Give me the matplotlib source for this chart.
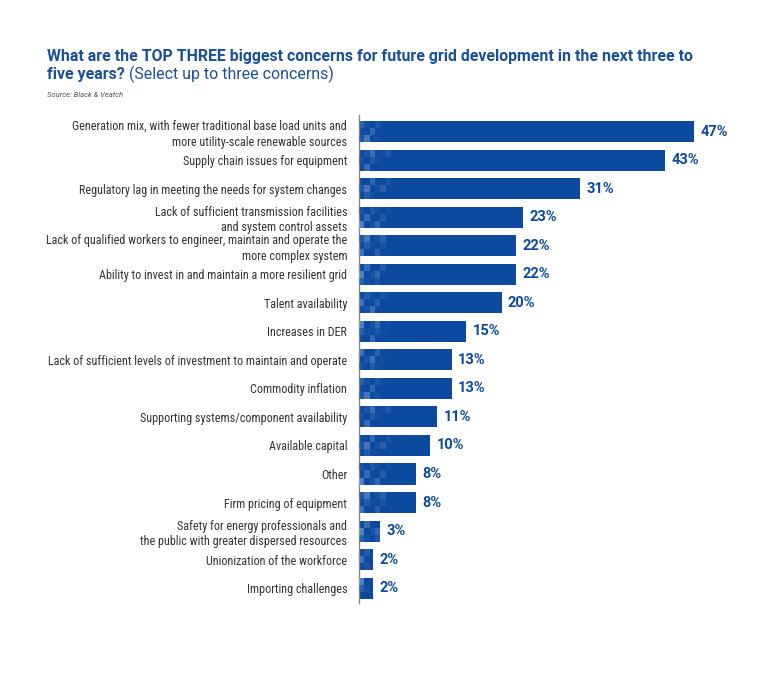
import numpy as np
import matplotlib.pyplot as plt
from matplotlib.patches import Rectangle
from matplotlib import font_manager

names = set(f.name for f in font_manager.fontManager.ttflist)
if "Roboto Condensed" in names:
    narrow, lab_size = "Roboto Condensed", 8.7
elif "Liberation Sans Narrow" in names:
    narrow, lab_size = "Liberation Sans Narrow", 8.7
else:
    narrow, lab_size = "Roboto", 7.4

##Data
labels = [
    "Generation mix, with fewer traditional base load units and\nmore utility-scale renewable sources",
    "Supply chain issues for equipment",
    "Regulatory lag in meeting the needs for system changes",
    "Lack of sufficient transmission facilities\nand system control assets",
    "Lack of qualified workers to engineer, maintain and operate the\nmore complex system",
    "Ability to invest in and maintain a more resilient grid",
    "Talent availability",
    "Increases in DER",
    "Lack of sufficient levels of investment to maintain and operate",
    "Commodity inflation",
    "Supporting systems/component availability",
    "Available capital",
    "Other",
    "Firm pricing of equipment",
    "Safety for energy professionals and\nthe public with greater dispersed resources",
    "Unionization of the workforce",
    "Importing challenges",
]
values = [47, 43, 31, 23, 22, 22, 20, 15, 13, 13, 11, 10, 8, 8, 3, 2, 2]

blue = "#0b4a9e"
title_blue = "#1a4f9a"

fig = plt.figure(figsize=(7.7, 6.75), dpi=100)
W, H = 770, 675
ax = fig.add_axes([359 / W, 1 - 603 / H, (694 - 359) / W, (603 - 115) / H])

y = np.arange(len(values))
bh = 0.74
ax.barh(y, values, height=bh, color=blue, zorder=2)

# mosaic tiles at the start of each bar
light = ["#3f78bd", "#2a64b0", "#6d98cf", "#1f5aa8", "#93b3dc"]
cell = 0.75
for i, v in enumerate(values):
    ncol = int(min(v / cell, 6))
    for r in range(3):
        for c in range(ncol):
            k = (i * 7 + r * 5 + c * 3) % 9
            if k < 5 and c < 6 - r:
                ax.add_patch(Rectangle((c * cell, i - bh / 2 + r * bh / 3), cell, bh / 3,
                                       color=light[k], alpha=0.5 - 0.07 * c, lw=0, zorder=3))

for i, v in enumerate(values):
    ax.text(v + 0.9, i, f"{v}%", va="center", ha="left", color=blue,
            fontsize=10.5, fontweight="bold", family="Roboto")

ax.set_ylim(len(values) - 0.5 + 0.02, -0.58)
ax.set_xlim(0, 47)
ax.set_yticks(y)
ax.set_yticklabels(labels, family=narrow, fontsize=lab_size, color="#333333", linespacing=1.25)
ax.tick_params(axis="y", length=0, pad=8.5)
ax.set_xticks([])
for s in ["top", "right", "bottom"]:
    ax.spines[s].set_visible(False)
ax.spines["left"].set_color("#888888")
ax.spines["left"].set_linewidth(1)

fig.text(47 / W, 1 - 56 / H, "What are the TOP THREE biggest concerns for future grid development in the next three to",
         color=title_blue, fontsize=11.4, fontweight="bold", family="Roboto", va="center")
t = fig.text(47 / W, 1 - 74 / H, "five years?", color=title_blue, fontsize=11.4, fontweight="bold",
             family="Roboto", va="center")
fig.canvas.draw()
bb = t.get_window_extent()
fig.text((bb.x1 + 4) / W, 1 - 74 / H, "(Select up to three concerns)", color=title_blue, fontsize=11.4,
         family="Roboto", va="center")
fig.text(47 / W, 1 - 95 / H, "Source: Black & Veatch", color="#555555", fontsize=5.5,
         style="italic", family="Roboto", va="center")

fig.savefig("out.png", dpi=100)
